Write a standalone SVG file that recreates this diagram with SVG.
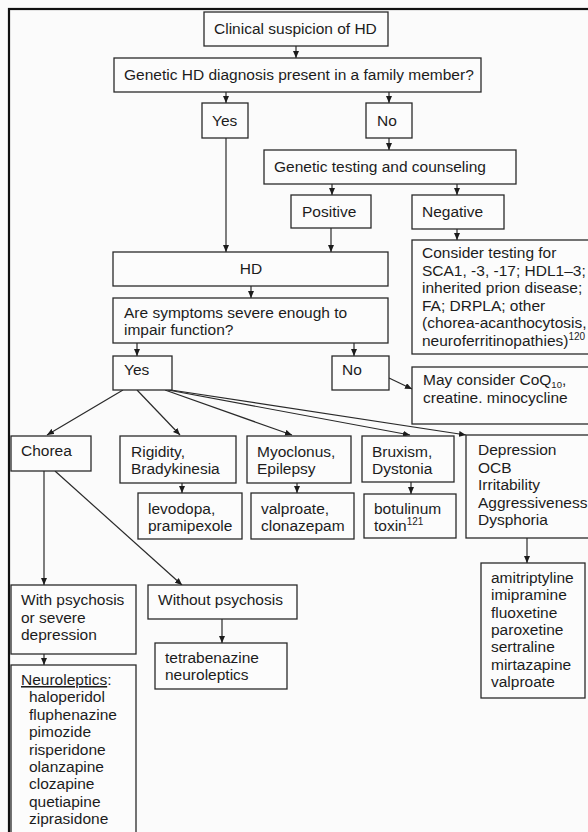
<svg xmlns="http://www.w3.org/2000/svg" width="588" height="832" viewBox="0 0 588 832">
<style>
.box{fill:#fcfcfc;stroke:#2a2a2a;stroke-width:1.3}
.t{font-family:"Liberation Sans",Arial,sans-serif;font-size:15.5px;fill:#1c1c1c}
.m{text-anchor:middle}
.c{stroke:#2a2a2a;stroke-width:1.2;fill:none;marker-end:url(#ah)}
.sup{font-size:10px}
.sub{font-size:9.5px}
</style>
<defs>
<marker id="ah" markerUnits="userSpaceOnUse" markerWidth="7" markerHeight="6" refX="7" refY="3" orient="auto" viewBox="0 0 7 6">
<path d="M0,0 L7,3 L0,6 z" fill="#1c1c1c"/>
</marker>
</defs>
<rect x="0" y="0" width="588" height="832" fill="#fbfbfb"/>
<rect x="9" y="9" width="600" height="850" fill="none" stroke="#111" stroke-width="2.2"/>

<g id="connectors">
<line class="c" x1="296" y1="46" x2="296" y2="58"/>
<line class="c" x1="226" y1="92" x2="226" y2="103"/>
<line class="c" x1="389" y1="92" x2="389" y2="103"/>
<line class="c" x1="389" y1="138" x2="389" y2="150"/>
<line class="c" x1="332" y1="184" x2="332" y2="195"/>
<line class="c" x1="457" y1="184" x2="457" y2="195"/>
<line class="c" x1="226" y1="138" x2="226" y2="252"/>
<line class="c" x1="331" y1="228" x2="331" y2="252"/>
<line class="c" x1="457" y1="229" x2="457" y2="240"/>
<line class="c" x1="251" y1="286" x2="251" y2="298"/>
<line class="c" x1="137" y1="343" x2="137" y2="356"/>
<line class="c" x1="354" y1="343" x2="354" y2="356"/>
<line class="c" x1="389" y1="378" x2="412" y2="389"/>
<line class="c" x1="123" y1="390" x2="47" y2="435"/>
<line class="c" x1="137" y1="390" x2="180" y2="435"/>
<line class="c" x1="165" y1="390" x2="292" y2="435"/>
<line class="c" x1="168" y1="390" x2="410" y2="435"/>
<line class="c" x1="171" y1="390" x2="466" y2="435"/>
<line class="c" x1="182" y1="483" x2="182" y2="493"/>
<line class="c" x1="297" y1="483" x2="297" y2="493"/>
<line class="c" x1="411" y1="482" x2="411" y2="494"/>
<line class="c" x1="527" y1="538" x2="527" y2="563"/>
<line class="c" x1="44" y1="471" x2="44" y2="585"/>
<line class="c" x1="55" y1="471" x2="182" y2="585"/>
<line class="c" x1="44" y1="654" x2="44" y2="665"/>
<line class="c" x1="222" y1="619" x2="222" y2="643"/>
</g>

<g id="clinical"><rect class="box" x="204" y="12" width="184" height="34"/><text class="t" x="214" y="34">Clinical suspicion of HD</text></g>
<g id="family"><rect class="box" x="114" y="58" width="367" height="34"/><text class="t" x="124" y="80">Genetic HD diagnosis present in a family member?</text></g>
<g id="yes1"><rect class="box" x="202" y="103" width="46" height="35"/><text class="t" x="212" y="126">Yes</text></g>
<g id="no1"><rect class="box" x="366" y="103" width="46" height="35"/><text class="t" x="377" y="126">No</text></g>
<g id="testing"><rect class="box" x="264" y="150" width="252" height="34"/><text class="t" x="274" y="172">Genetic testing and counseling</text></g>
<g id="positive"><rect class="box" x="291" y="195" width="80" height="33"/><text class="t" x="302" y="217">Positive</text></g>
<g id="negative"><rect class="box" x="412" y="195" width="92" height="34"/><text class="t" x="422" y="217">Negative</text></g>
<g id="consider"><rect class="box" x="412" y="240" width="200" height="114"/>
<text class="t" x="422" y="258">Consider testing for</text>
<text class="t" x="422" y="275.6">SCA1, -3, -17; HDL1–3;</text>
<text class="t" x="422" y="293">inherited prion disease;</text>
<text class="t" x="422" y="310.6">FA; DRPLA; other</text>
<text class="t" x="422" y="328">(chorea-acanthocytosis,</text>
<text class="t" x="422" y="345.8">neuroferritinopathies)<tspan class="sup" dy="-6">120</tspan></text>
</g>
<g id="hd"><rect class="box" x="113" y="252" width="275" height="34"/><text class="t m" x="251" y="274">HD</text></g>
<g id="severe"><rect class="box" x="113" y="298" width="275" height="45"/>
<text class="t" x="124" y="318">Are symptoms severe enough to</text>
<text class="t" x="124" y="335">impair function?</text></g>
<g id="yes2"><rect class="box" x="113" y="356" width="59" height="34"/><text class="t" x="124" y="375">Yes</text></g>
<g id="no2"><rect class="box" x="332" y="356" width="57" height="34"/><text class="t" x="342" y="375">No</text></g>
<g id="coq"><rect class="box" x="412" y="367" width="200" height="57"/>
<text class="t" x="423" y="385">May consider CoQ<tspan class="sub" dy="2.5">10</tspan><tspan dy="-2.5">,</tspan></text>
<text class="t" x="423" y="403">creatine. minocycline</text></g>
<g id="chorea"><rect class="box" x="11" y="436" width="80" height="35"/><text class="t" x="21" y="456">Chorea</text></g>
<g id="rigidity"><rect class="box" x="120" y="436" width="116" height="47"/>
<text class="t" x="131" y="457">Rigidity,</text><text class="t" x="131" y="474">Bradykinesia</text></g>
<g id="myoclonus"><rect class="box" x="247" y="436" width="104" height="47"/>
<text class="t" x="257" y="457">Myoclonus,</text><text class="t" x="257" y="474">Epilepsy</text></g>
<g id="bruxism"><rect class="box" x="362" y="436" width="92" height="46"/>
<text class="t" x="372" y="457">Bruxism,</text><text class="t" x="372" y="474">Dystonia</text></g>
<g id="depression"><rect class="box" x="466" y="435" width="140" height="103"/>
<text class="t" x="478" y="455">Depression</text>
<text class="t" x="478" y="472.5">OCB</text>
<text class="t" x="478" y="490">Irritability</text>
<text class="t" x="478" y="507.5">Aggressiveness</text>
<text class="t" x="478" y="525">Dysphoria</text></g>
<g id="levodopa"><rect class="box" x="138" y="493" width="104" height="46"/>
<text class="t" x="148" y="514">levodopa,</text><text class="t" x="148" y="531">pramipexole</text></g>
<g id="valproate"><rect class="box" x="251" y="493" width="103" height="46"/>
<text class="t" x="261" y="514">valproate,</text><text class="t" x="261" y="531">clonazepam</text></g>
<g id="botulinum"><rect class="box" x="364" y="494" width="92" height="44"/>
<text class="t" x="374" y="514">botulinum</text><text class="t" x="374" y="531">toxin<tspan class="sup" dy="-6">121</tspan></text></g>
<g id="antidepressants"><rect class="box" x="481" y="563" width="104" height="135"/>
<text class="t" x="491" y="583">amitriptyline</text>
<text class="t" x="491" y="600.3">imipramine</text>
<text class="t" x="491" y="617.7">fluoxetine</text>
<text class="t" x="491" y="635">paroxetine</text>
<text class="t" x="491" y="652.3">sertraline</text>
<text class="t" x="491" y="669.7">mirtazapine</text>
<text class="t" x="491" y="687">valproate</text></g>
<g id="withpsychosis"><rect class="box" x="11" y="585" width="125" height="69"/>
<text class="t" x="21" y="605">With psychosis</text>
<text class="t" x="21" y="622.5">or severe</text>
<text class="t" x="21" y="640">depression</text></g>
<g id="withoutpsychosis"><rect class="box" x="148" y="585" width="149" height="34"/><text class="t" x="158" y="605">Without psychosis</text></g>
<g id="tetrabenazine"><rect class="box" x="155" y="643" width="132" height="46"/>
<text class="t" x="165" y="663">tetrabenazine</text><text class="t" x="165" y="680">neuroleptics</text></g>
<g id="neuroleptics"><rect class="box" x="11" y="665" width="125" height="200"/>
<text class="t" x="21" y="685"><tspan text-decoration="underline">Neuroleptics</tspan>:</text>
<text class="t" x="29" y="702.4">haloperidol</text>
<text class="t" x="29" y="719.8">fluphenazine</text>
<text class="t" x="29" y="737.2">pimozide</text>
<text class="t" x="29" y="754.6">risperidone</text>
<text class="t" x="29" y="772">olanzapine</text>
<text class="t" x="29" y="789.4">clozapine</text>
<text class="t" x="29" y="806.8">quetiapine</text>
<text class="t" x="29" y="824.2">ziprasidone</text></g>
</svg>
